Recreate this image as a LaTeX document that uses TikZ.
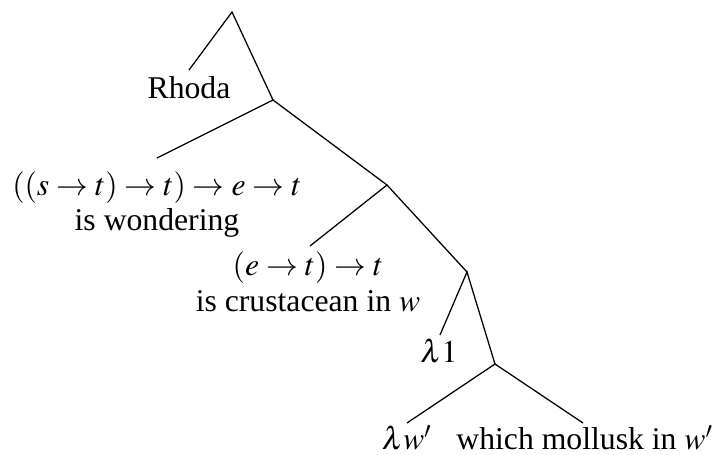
\documentclass[tikz,border=0pt]{standalone}
\usepackage{mathptmx}
\usepackage[no-math]{fontspec}
\setmainfont{Liberation Serif}
\begin{document}
\begin{tikzpicture}[x=0.3155pt,y=-0.3155pt,
  lbl/.style={anchor=base,inner sep=0pt},
  edge/.style={line width=0.4pt}]
\useasboundingbox (0,0) rectangle (713,455);
% branching points and line ends
\coordinate (top) at (232,12);
\coordinate (rhodaend) at (189,70);
\coordinate (n1) at (273,100);
\coordinate (wondend) at (157,158);
\coordinate (n2) at (387,185);
\coordinate (crustend) at (310,246);
\coordinate (n3) at (467,272);
\coordinate (lamend) at (440,335);
\coordinate (n4) at (495,364);
\coordinate (lwend) at (407,423);
\coordinate (mollend) at (583,423);
% labels
\node[lbl] (rhoda) at (189,98) {Rhoda};
\node[lbl] (type1) at (157,195) {$((s\rightarrow t)\rightarrow t)\rightarrow e\rightarrow t$};
\node[lbl] (wond) at (157,230) {is wondering};
\node[lbl] (type2) at (308,275) {$(e\rightarrow t)\rightarrow t$};
\node[lbl] (crust) at (308,311) {is crustacean in $w$};
\node[lbl] (lam1) at (439,363) {$\lambda 1$};
\node[lbl] (lamw) at (407,450) {$\lambda w'$};
\node[lbl] (moll) at (585,450) {which mollusk in $w'$};
% edges
\draw[edge] (rhodaend) -- (top) -- (n1);
\draw[edge] (wondend) -- (n1) -- (n2);
\draw[edge] (crustend) -- (n2) -- (n3);
\draw[edge] (lamend) -- (n3) -- (n4);
\draw[edge] (lwend) -- (n4) -- (mollend);
\end{tikzpicture}
\end{document}
